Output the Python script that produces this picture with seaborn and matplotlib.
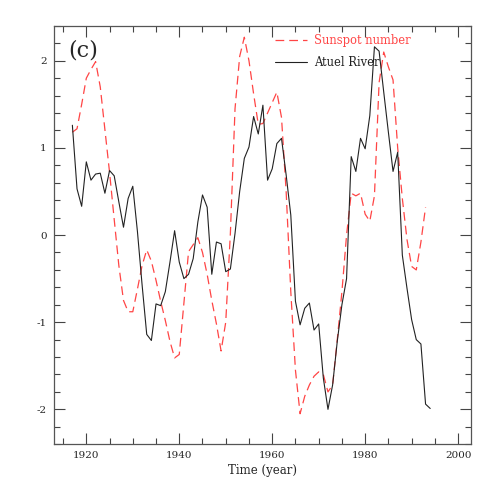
import numpy as np
import pandas as pd
import matplotlib
matplotlib.use('Agg')
import matplotlib.pyplot as plt
from matplotlib.ticker import MultipleLocator
import seaborn as sns

# Atuel River streamflow anomaly (black solid), 1917-1994
river_years = np.arange(1917, 1995)
river_vals = [1.26, 0.53, 0.33, 0.84, 0.63, 0.70, 0.71, 0.48, 0.74, 0.68,
              0.38, 0.09, 0.42, 0.56, 0.04, -0.57, -1.14, -1.21, -0.79, -0.81,
              -0.65, -0.31, 0.05, -0.31, -0.50, -0.45, -0.27, 0.15, 0.46, 0.32,
              -0.45, -0.08, -0.10, -0.42, -0.39, 0.02, 0.50, 0.88, 1.01, 1.36,
              1.16, 1.49, 0.63, 0.76, 1.05, 1.11, 0.69, 0.23, -0.76, -1.03,
              -0.84, -0.78, -1.09, -1.02, -1.64, -2.00, -1.72, -1.22, -0.80, -0.50,
              0.90, 0.73, 1.11, 0.99, 1.37, 2.16, 2.11, 1.64, 1.18, 0.73,
              0.95, -0.23, -0.61, -0.97, -1.20, -1.25, -1.94, -1.99]

# sunspot number anomaly (red dashed), 1917-1993
sun_years = np.arange(1917, 1994)
sun_vals = [1.18, 1.22, 1.50, 1.80, 1.90, 1.99, 1.70, 1.21, 0.72, 0.18,
            -0.35, -0.75, -0.88, -0.88, -0.62, -0.35, -0.17, -0.30, -0.52, -0.76,
            -0.98, -1.22, -1.41, -1.37, -0.78, -0.19, -0.11, -0.03, -0.20, -0.45,
            -0.75, -1.02, -1.33, -1.00, 0.02, 1.45, 2.05, 2.27, 2.00, 1.62,
            1.27, 1.28, 1.40, 1.52, 1.64, 1.35, 0.50, -0.65, -1.55, -2.05,
            -1.85, -1.72, -1.62, -1.57, -1.60, -1.80, -1.72, -1.20, -0.65, 0.00,
            0.48, 0.45, 0.48, 0.24, 0.16, 0.45, 1.75, 2.10, 1.93, 1.78,
            1.00, 0.42, -0.05, -0.36, -0.40, -0.08, 0.32]

assert len(river_vals) == len(river_years)
assert len(sun_vals) == len(sun_years)

river = pd.DataFrame({'year': river_years, 'value': river_vals})
sun = pd.DataFrame({'year': sun_years, 'value': sun_vals})

sns.set_style("ticks")
plt.rcParams['font.family'] = ['DejaVu Serif']
plt.rcParams['axes.unicode_minus'] = False

fig = plt.figure(figsize=(4.98, 4.98), dpi=100)
ax = fig.add_axes([0.108, 0.108, 0.838, 0.840])

sns.lineplot(data=sun, x='year', y='value', ax=ax, color='#ff4545',
             linewidth=0.9, label='Sunspot number')
ax.lines[-1].set_dashes([7, 4])
sns.lineplot(data=river, x='year', y='value', ax=ax, color='#222222',
             linewidth=0.8, label='Atuel River')

ax.set_xlim(1913, 2002.8)
ax.set_ylim(-2.4, 2.4)
ax.xaxis.set_major_locator(MultipleLocator(20))
ax.xaxis.set_minor_locator(MultipleLocator(5))
ax.yaxis.set_major_locator(MultipleLocator(1))
ax.yaxis.set_minor_locator(MultipleLocator(0.2))
ax.tick_params(which='both', direction='in', top=True, right=True,
               color='#444444', width=0.8, labelsize=7.5, pad=5)
ax.tick_params(which='major', length=8)
ax.tick_params(which='minor', length=4)
for s in ax.spines.values():
    s.set_color('#555555')
    s.set_linewidth(0.9)

ax.set_xlabel('Time (year)', fontsize=8.5, labelpad=3)
ax.set_ylabel('')

ax.text(0.035, 0.94, '(c)', transform=ax.transAxes, fontsize=16,
        ha='left', va='center', fontweight='light')

leg = ax.legend(loc='upper left', bbox_to_anchor=(0.505, 1.005), frameon=False,
                handlelength=2.8, handletextpad=0.6, fontsize=8.3,
                labelspacing=0.75)
for txt, col in zip(leg.get_texts(), ['#ff4545', '#222222']):
    txt.set_color(col)

fig.savefig('out.png', dpi=100)
